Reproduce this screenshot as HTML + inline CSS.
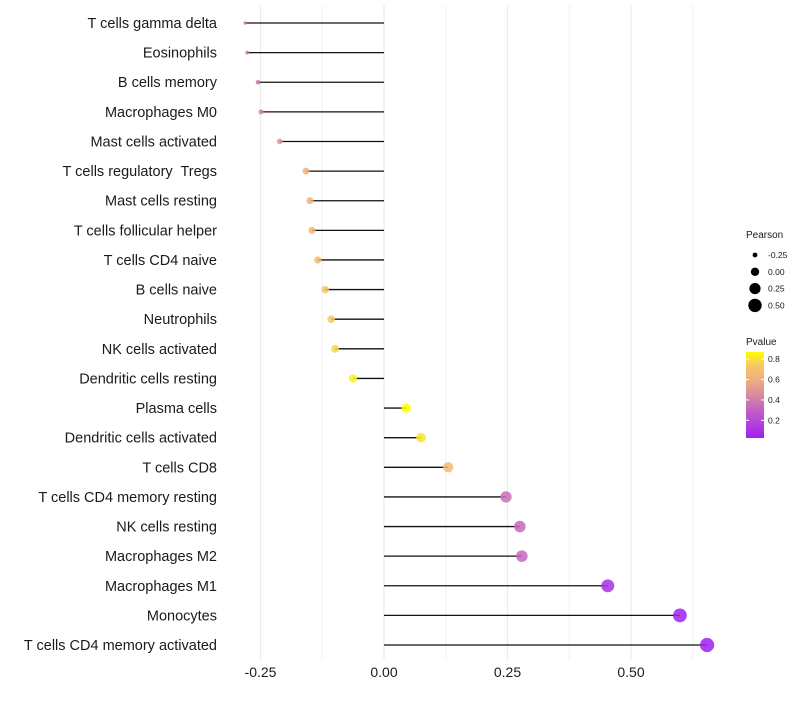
<!DOCTYPE html>
<html><head><meta charset="utf-8"><style>
body{margin:0;background:#fff;font-family:"Liberation Sans",sans-serif;}
svg text{font-family:"Liberation Sans",sans-serif;white-space:pre;}
</style></head><body>
<svg id="chart" width="800" height="700" xmlns="http://www.w3.org/2000/svg"></svg>
<script>
const categories=["T cells gamma delta","Eosinophils","B cells memory","Macrophages M0","Mast cells activated","T cells regulatory  Tregs","Mast cells resting","T cells follicular helper","T cells CD4 naive","B cells naive","Neutrophils","NK cells activated","Dendritic cells resting","Plasma cells","Dendritic cells activated","T cells CD8","T cells CD4 memory resting","NK cells resting","Macrophages M2","Macrophages M1","Monocytes","T cells CD4 memory activated"];
const pearson=[-0.281,-0.277,-0.255,-0.249,-0.211,-0.158,-0.150,-0.146,-0.134,-0.119,-0.107,-0.099,-0.063,0.045,0.075,0.130,0.247,0.275,0.279,0.453,0.599,0.654];
const pvalue=[0.35,0.35,0.38,0.40,0.50,0.62,0.64,0.65,0.68,0.72,0.75,0.78,0.85,0.88,0.82,0.68,0.35,0.32,0.32,0.08,0.03,0.02];
const xTicks=[-0.25,0,0.25,0.5];
const xTickLabels=["-0.25","0.00","0.25","0.50"];
const xMinor=[-0.125,0.125,0.375,0.625];
const sizeLegend=[-0.25,0,0.25,0.5];
const sizeLegendLabels=["-0.25","0.00","0.25","0.50"];
const pLegend=[0.8,0.6,0.4,0.2];

const NS="http://www.w3.org/2000/svg";
const svg=document.getElementById('chart');
const x=v=>384+v*494;
const y=i=>23+i*29.62;
const rad=v=>1.3+Math.sqrt(Math.max(0,v+0.285))*6.0;
const stops=[[0.02,[160,32,240]],[0.3,[196,96,196]],[0.45,[216,138,160]],[0.6,[239,174,128]],[0.75,[246,200,100]],[0.88,[255,255,0]]];
function col(p){
  if(p<=stops[0][0])return `rgb(${stops[0][1]})`;
  for(let k=1;k<stops.length;k++){if(p<=stops[k][0]){const a=stops[k-1],b=stops[k],t=(p-a[0])/(b[0]-a[0]);return `rgb(${a[1].map((c,j)=>Math.round(c+(b[1][j]-c)*t)).join(',')})`;}}
  return 'rgb(255,255,0)';
}
function el(tag,attrs,parent){const e=document.createElementNS(NS,tag);for(const k in attrs)e.setAttribute(k,attrs[k]);(parent||svg).appendChild(e);return e;}
xMinor.forEach(v=>{const g=el('line',{x1:x(v),x2:x(v),y1:5,y2:660,stroke:'#f2f2f2','stroke-width':1});

});
xTicks.forEach((v,i)=>{const g=el('line',{x1:x(v),x2:x(v),y1:5,y2:660,stroke:'#ebebeb','stroke-width':1.2});


const t=el('text',{x:x(v),y:677,'text-anchor':'middle','font-size':14,fill:'#1a1a1a'});t.textContent=xTickLabels[i];

});
categories.forEach((c,i)=>{
  const t=el('text',{x:217,y:y(i)+5,'text-anchor':'end','font-size':14.5,fill:'#1a1a1a'});t.textContent=c;
  
  
  const l=el('line',{x1:x(0),x2:x(pearson[i]),y1:y(i),y2:y(i),stroke:'#111','stroke-width':1.3});
  
  
  const p=el('circle',{cx:x(pearson[i]),cy:y(i),r:rad(pearson[i]),fill:col(pvalue[i]),'fill-opacity':0.85});
  
  
});
let t=el('text',{x:746,y:238,'font-size':10,fill:'#1a1a1a'});t.textContent='Pearson';


sizeLegend.forEach((v,i)=>{const yy=255+i*16.8;
const c=el('circle',{cx:755,cy:yy,r:[2.4,4.2,5.6,6.7][i],fill:'#000'});


const tt=el('text',{x:768,y:yy+3,'font-size':8.5,fill:'#1a1a1a'});tt.textContent=sizeLegendLabels[i];

});
t=el('text',{x:746,y:345,'font-size':10,fill:'#1a1a1a'});t.textContent='Pvalue';


const defs=el('defs',{});const lg=el('linearGradient',{id:'pg',x1:0,y1:0,x2:0,y2:1},defs);
[0.88,0.75,0.6,0.45,0.3,0.02].forEach(p=>el('stop',{offset:(0.88-p)/0.86,'stop-color':col(p)},lg));
const bar=el('rect',{x:746,y:352,width:18,height:86,fill:'url(#pg)'});


pLegend.forEach(p=>{const yy=352+(0.87-p)/0.1*10.2;
el('line',{x1:746,x2:749,y1:yy,y2:yy,stroke:'#fff'});el('line',{x1:761,x2:764,y1:yy,y2:yy,stroke:'#fff'});
const tt=el('text',{x:768,y:yy+3,'font-size':8.5,fill:'#1a1a1a'});tt.textContent=p.toFixed(1);

});
</script>
</body></html>
